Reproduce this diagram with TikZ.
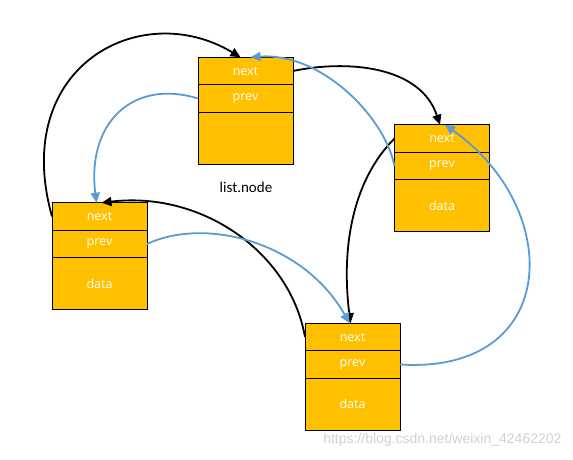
\documentclass[tikz,border=0pt]{standalone}
\usepackage{fontspec}
\setmainfont{Carlito}
\newfontfamily\cellfont{Open Sans}
\newfontfamily\markfont{Liberation Sans}
\usetikzlibrary{positioning,arrows.meta}
\definecolor{boxorange}{HTML}{FFC000}
\definecolor{ptrblue}{HTML}{5B9BD5}
\begin{document}
\begin{tikzpicture}[x=1pt, y=1pt,
  cell/.style={draw, line width=1pt, fill=boxorange, minimum width=95pt,
    minimum height=27.5pt, inner sep=0pt, outer sep=0pt,
    text=white, font=\cellfont\fontsize{12.5}{14}\selectfont},
  datacell/.style={cell, minimum height=52pt},
  nextptr/.style={draw=black, line width=1.8pt, -{Triangle[length=10pt,width=9pt]}},
  prevptr/.style={draw=ptrblue, line width=1.8pt, -{Triangle[length=10pt,width=9pt]}}]
  \useasboundingbox (0,0) rectangle (573,460);
  % list head
  \node[cell] (Hn) at (245.5,389) {next};
  \node[cell, below=0pt of Hn] (Hp) {prev};
  \node[datacell, below=0pt of Hp] (Hd) {};
  \node[font=\fontsize{15}{18}\selectfont] (lbl) at (246,273) {list.node};
  % right node
  \node[cell] (An) at (442,321.5) {next};
  \node[cell, below=0pt of An] (Ap) {prev};
  \node[datacell, below=0pt of Ap] (Ad) {data};
  % left node
  \node[cell] (Ln) at (99.5,243.5) {next};
  \node[cell, below=0pt of Ln] (Lp) {prev};
  \node[datacell, below=0pt of Lp] (Ld) {data};
  % bottom node
  \node[cell] (Bn) at (352.5,123) {next};
  \node[cell, below=0pt of Bn] (Bp) {prev};
  \node[datacell, below=0pt of Bp] (Bd) {data};
  % next pointers
  \draw[nextptr] (Hn.east) .. controls +(52,11) and +(-20,60) .. ([xshift=-2pt]An.north);
  \draw[nextptr] (An.west) .. controls +(-40,-40) and +(-10,80) .. ([xshift=-2pt]Bn.north);
  \draw[nextptr] (Bn.west) .. controls +(-15,85) and +(100,12) .. ([xshift=2pt]Ln.north);
  \draw[nextptr] (Ln.west) .. controls +(-42,150) and +(-100,60) .. ([xshift=-5pt]Hn.north);
  % prev pointers
  \draw[prevptr] (Hp.west) .. controls +(-65,20) and +(-10,80) .. ([xshift=-3pt]Ln.north);
  \draw[prevptr] (Lp.east) .. controls +(60,28) and +(-45,80) .. ([xshift=-3pt]Bn.north);
  \draw[prevptr] (Bp.east) .. controls +(160,-10) and +(120,-85) .. ([xshift=3pt]An.north);
  \draw[prevptr] (Ap.west) .. controls +(-10,50) and +(70,5) .. ([xshift=5pt]Hn.north);
  % watermark
  \node[font=\markfont\fontsize{14}{16}\selectfont, text=black!18, anchor=east] (wm) at (565,20) {https://blog.csdn.net/weixin\_42462202};
\end{tikzpicture}
\end{document}
